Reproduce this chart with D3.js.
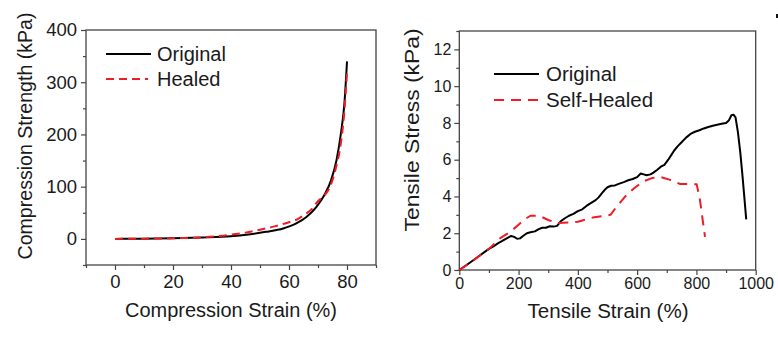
<!DOCTYPE html>
<html>
<head>
<meta charset="utf-8">
<script src="https://cdn.jsdelivr.net/npm/d3@7"></script>
<style>
  html, body { margin: 0; padding: 0; background: #fff; }
  svg text { font-family: Arial, "Liberation Sans", sans-serif; fill: #1a1a1a; }
  .axis path { display: none; }
  .axis line { stroke: #444; stroke-width: 1.2; }
</style>
</head>
<body>
<svg id="chart" width="778" height="338"></svg>
<script>
// compression test: original vs healed
var compStrainOrig = [0, 5, 10, 20, 30, 40, 46, 52, 58, 62.5, 66, 69.4, 72.2, 74.5, 76.4, 77.9, 79.1, 80];
var compStressOrig = [0, 0.2, 0.5, 1.0, 2.5, 5, 8.5, 13.5, 20, 29.5, 42, 61, 84, 112, 151, 202, 259, 340];
var compStrainHeal = [0, 10, 20, 30, 40, 45, 50, 55, 60, 63, 65, 68, 70, 72, 74, 76, 78, 79, 80];
var compStressHeal = [0, 0.5, 1.2, 3, 8, 12, 17.5, 24, 32, 38, 45, 58, 72, 82, 98, 132, 188, 238, 318];

// tensile test: original vs self-healed
var tensStrainOrig = [0, 20, 40, 60, 80, 100, 115, 130, 145, 160, 175, 185, 195, 205, 215, 228, 240, 255, 268, 280,
  292, 305, 318, 330, 342, 355, 370, 385, 400, 415, 430, 445, 460, 470, 480, 490, 500, 512, 525, 540,
  555, 570, 585, 600, 612, 622, 632, 645, 655, 668, 680, 692, 705, 715, 725, 738, 750, 765, 780, 795,
  810, 825, 840, 855, 870, 885, 900, 910, 918, 925, 932, 940, 948, 955, 962, 968];
var tensStressOrig = [0, 0.22, 0.45, 0.68, 0.92, 1.15, 1.28, 1.45, 1.58, 1.72, 1.85, 1.8, 1.7, 1.72, 1.85, 2.0, 2.05, 2.1, 2.22, 2.3,
  2.3, 2.38, 2.36, 2.4, 2.65, 2.8, 2.95, 3.05, 3.2, 3.3, 3.5, 3.65, 3.8, 3.95, 4.15, 4.35, 4.5, 4.58, 4.6, 4.7,
  4.78, 4.88, 4.95, 5.05, 5.25, 5.2, 5.15, 5.2, 5.3, 5.45, 5.62, 5.72, 6.0, 6.25, 6.5, 6.75, 6.95, 7.2, 7.4, 7.52,
  7.6, 7.7, 7.78, 7.85, 7.9, 7.95, 8.0, 8.15, 8.42, 8.45, 8.3, 7.5, 6.4, 5.2, 3.9, 2.75];
var tensStrainHeal = [0, 50, 100, 137, 170, 199, 220, 240, 270, 300, 330, 370, 400, 450, 510, 531, 560, 590, 621, 650, 680, 711, 745, 801, 812, 829];
var tensStressHeal = [0, 0.55, 1.15, 1.72, 2.05, 2.45, 2.75, 2.95, 2.95, 2.72, 2.55, 2.58, 2.62, 2.85, 3.0, 3.45, 4.0, 4.45, 4.82, 5.0, 5.05, 4.9, 4.68, 4.66, 3.8, 1.8];

// ticks
var compXTicks = [0, 20, 40, 60, 80];
var compXMinor = [-10, 10, 30, 50, 70, 90];
var compYTicks = [0, 100, 200, 300, 400];
var compYMinor = [-50, 50, 150, 250, 350];
var tensXTicks = [0, 200, 400, 600, 800, 1000];
var tensXMinor = [100, 300, 500, 700, 900];
var tensYTicks = [0, 2, 4, 6, 8, 10, 12];
var tensYMinor = [1, 3, 5, 7, 9, 11, 13];

var svg = d3.select('#chart');
var plain = d3.format('d');

function zip(xs, ys) {
  return xs.map(function (x, i) { return [x, ys[i]]; });
}

function panel(opts) {
  var x = d3.scaleLinear().domain(opts.xDomain).range([opts.left, opts.right]);
  var y = d3.scaleLinear().domain(opts.yDomain).range([opts.bottom, opts.top]);
  var g = svg.append('g');

  // minor ticks first, majors on top with labels
  g.append('g').attr('class', 'axis')
    .attr('transform', 'translate(0,' + opts.bottom + ')')
    .call(d3.axisBottom(x).tickValues(opts.xMinor).tickSize(3).tickFormat(''));
  g.append('g').attr('class', 'axis')
    .attr('transform', 'translate(' + opts.left + ',0)')
    .call(d3.axisLeft(y).tickValues(opts.yMinor).tickSize(3).tickFormat(''));

  var xa = g.append('g').attr('class', 'axis')
    .attr('transform', 'translate(0,' + opts.bottom + ')')
    .call(d3.axisBottom(x).tickValues(opts.xTicks).tickSize(5).tickPadding(opts.xPad).tickFormat(plain));
  xa.selectAll('text').style('font-size', opts.tickFont + 'px').attr('fill', '#1a1a1a');

  var ya = g.append('g').attr('class', 'axis')
    .attr('transform', 'translate(' + opts.left + ',0)')
    .call(d3.axisLeft(y).tickValues(opts.yTicks).tickSize(5).tickPadding(opts.yPad).tickFormat(plain));
  ya.selectAll('text').style('font-size', opts.tickFont + 'px').attr('fill', '#1a1a1a');

  // frame
  g.append('rect')
    .attr('x', opts.left).attr('y', opts.top)
    .attr('width', opts.right - opts.left).attr('height', opts.bottom - opts.top)
    .attr('fill', 'none').attr('stroke', '#444').attr('stroke-width', 1.3);

  var line = d3.line()
    .x(function (d) { return x(d[0]); })
    .y(function (d) { return y(d[1]); })
    .curve(opts.curve);

  opts.series.forEach(function (s) {
    g.append('path')
      .datum(s.data)
      .attr('d', line)
      .attr('fill', 'none')
      .attr('stroke', s.color)
      .attr('stroke-width', 2)
      .attr('stroke-linejoin', 'round')
      .attr('stroke-dasharray', s.dash || null);
  });

  // axis titles
  g.append('text')
    .attr('x', opts.xTitle.x).attr('y', opts.xTitle.y)
    .attr('text-anchor', 'middle')
    .attr('textLength', opts.xTitle.len).attr('lengthAdjust', 'spacingAndGlyphs')
    .style('font-size', opts.titleFont + 'px')
    .text(opts.xTitle.text);
  g.append('text')
    .attr('transform', 'translate(' + opts.yTitle.x + ',' + opts.yTitle.y + ') rotate(-90)')
    .attr('text-anchor', 'middle')
    .attr('textLength', opts.yTitle.len).attr('lengthAdjust', 'spacingAndGlyphs')
    .style('font-size', opts.titleFont + 'px')
    .text(opts.yTitle.text);

  // legend
  opts.legend.forEach(function (l, i) {
    var s = opts.series[i];
    g.append('line')
      .attr('x1', l.x1).attr('x2', l.x2).attr('y1', l.y).attr('y2', l.y)
      .attr('stroke', s.color).attr('stroke-width', 2)
      .attr('stroke-dasharray', s.dash || null);
    g.append('text')
      .attr('x', l.tx).attr('y', l.y + 7)
      .style('font-size', opts.legendFont + 'px')
      .text(s.name);
  });
}

panel({
  left: 86, right: 376, top: 30, bottom: 265,
  xDomain: [-10, 90], yDomain: [-50, 400],
  xTicks: compXTicks, xMinor: compXMinor, yTicks: compYTicks, yMinor: compYMinor,
  tickFont: 18.5, xPad: 5, yPad: 4, titleFont: 19.5, legendFont: 20,
  curve: d3.curveMonotoneX,
  series: [
    { name: 'Original', color: '#000', data: zip(compStrainOrig, compStressOrig) },
    { name: 'Healed', color: '#ee1c25', dash: '8,5', data: zip(compStrainHeal, compStressHeal) }
  ],
  xTitle: { text: 'Compression Strain (%)', x: 231, y: 317, len: 212 },
  yTitle: { text: 'Compression Strength (kPa)', x: 32, y: 136, len: 247 },
  legend: [
    { x1: 106, x2: 151, y: 54, tx: 157 },
    { x1: 106, x2: 148, y: 79, tx: 157 }
  ]
});

panel({
  left: 459.3, right: 755.7, top: 31, bottom: 270,
  xDomain: [0, 1000], yDomain: [0, 13],
  xTicks: tensXTicks, xMinor: tensXMinor, yTicks: tensYTicks, yMinor: tensYMinor,
  tickFont: 16, xPad: 3, yPad: 3, titleFont: 20, legendFont: 20.5,
  curve: d3.curveLinear,
  series: [
    { name: 'Original', color: '#000', data: zip(tensStrainOrig, tensStressOrig) },
    { name: 'Self-Healed', color: '#ee1c25', dash: '10,7', data: zip(tensStrainHeal, tensStressHeal) }
  ],
  xTitle: { text: 'Tensile Strain (%)', x: 608, y: 317.5, len: 161 },
  yTitle: { text: 'Tensile Stress (kPa)', x: 419, y: 130, len: 203 },
  legend: [
    { x1: 494, x2: 539, y: 74, tx: 546 },
    { x1: 494, x2: 539, y: 100, tx: 546 }
  ]
});

// stray mark at the top-right edge
svg.append('rect').attr('x', 776).attr('y', 14).attr('width', 2).attr('height', 4).attr('fill', '#111');
</script>
</body>
</html>
